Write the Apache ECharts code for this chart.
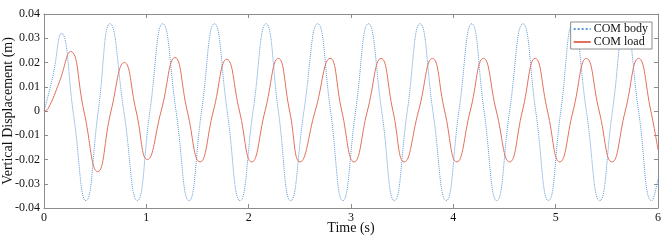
<!DOCTYPE html>
<html>
<head>
<meta charset="utf-8">
<script src="https://cdn.jsdelivr.net/npm/echarts@6/dist/echarts.min.js"></script>
<style>
  html, body { margin: 0; padding: 0; background: #fff; }
  #main { width: 665px; height: 243px; }
</style>
</head>
<body>
<div id="main"></div>
<script>
// 曲线关键点（峰、谷、过零点）
let bodyTime = [0, 0.085, 0.17, 0.29, 0.41, 0.53, 0.645, 0.78, 0.912, 1.035, 1.16, 1.29, 1.417, 1.54, 1.665, 1.79, 1.916, 2.043,
    2.17, 2.29, 2.41, 2.54, 2.675, 2.80, 2.92, 3.045, 3.17, 3.30, 3.424, 3.55, 3.675, 3.80, 3.93, 4.055,
    4.18, 4.30, 4.425, 4.55, 4.68, 4.805, 4.93, 5.05, 5.17, 5.30, 5.43, 5.555, 5.68, 5.81, 5.94, 6.0]
let bodyDisp = [0, 0.014, 0.032, -0.002, -0.037, 0, 0.036, 0, -0.037, 0, 0.036, 0, -0.037, 0, 0.036, 0, -0.037, 0,
    0.036, 0, -0.037, 0, 0.036, 0, -0.037, 0, 0.036, 0, -0.037, 0, 0.036, 0, -0.037, 0,
    0.036, 0, -0.037, 0, 0.036, 0, -0.037, 0, 0.036, 0, -0.037, 0, 0.036, 0, -0.037, -0.028]

let loadTime = [0, 0.04, 0.15, 0.26, 0.39, 0.525, 0.655, 0.785, 0.90, 1.01, 1.145, 1.28, 1.40, 1.525, 1.655, 1.786, 1.91, 2.03,
    2.16, 2.29, 2.40, 2.502, 2.65, 2.796, 2.91, 3.03, 3.16, 3.294, 3.41, 3.52, 3.66, 3.796, 3.915, 4.034,
    4.165, 4.294, 4.42, 4.55, 4.675, 4.80, 4.92, 5.04, 5.17, 5.30, 5.425, 5.55, 5.68, 5.81, 5.93, 6.0]
let loadDisp = [0, 0.001, 0.012, 0.0245, 0, -0.025, 0, 0.020, 0, -0.020, 0, 0.022, 0, -0.021, 0, 0.0213, 0, -0.021,
    0, 0.0217, 0, -0.021, 0, 0.0217, 0, -0.021, 0, 0.0217, 0, -0.021, 0, 0.0217, 0, -0.021,
    0, 0.0217, 0, -0.021, 0, 0.0217, 0, -0.021, 0, 0.0217, 0, -0.021, 0, 0.0217, 0, -0.016]

let seriesNames = ['COM body', 'COM load']

let myChart = echarts.init(document.getElementById('main'))
let font = 'Liberation Serif'
let axisColor = '#8c8c8c'

function pairs(ts, vs) {
    return ts.map(function (t, i) { return [t, vs[i]] })
}

let option = {
    animation: false,
    textStyle: { fontFamily: font },
    grid: { left: 44, right: 7, top: 14, bottom: 35, outerBoundsMode: 'none', containLabel: false },
    legend: {
        orient: 'vertical',
        right: 13,
        top: 22,
        padding: [1, 4, 1, 2],
        itemGap: 1,
        itemWidth: 17,
        itemHeight: 10,
        backgroundColor: '#fff',
        borderColor: '#8c8c8c',
        borderWidth: 1,
        borderRadius: 0,
        itemStyle: { opacity: 0 },
        textStyle: { fontFamily: font, fontSize: 12, color: '#111', padding: [0, 0, 0, -2] },
        data: seriesNames
    },
    xAxis: [
        {
            type: 'value', min: 0, max: 6, interval: 1,
            name: 'Time (s)', nameLocation: 'middle', nameGap: 13, nameMoveOverlap: false,
            nameTextStyle: { fontFamily: font, fontSize: 14, color: '#111' },
            axisLine: { onZero: false, lineStyle: { color: axisColor } },
            axisTick: { inside: true, length: 4, lineStyle: { color: axisColor } },
            axisLabel: { fontFamily: font, fontSize: 12, color: '#111', margin: 4 },
            splitLine: { show: false }
        },
        {
            type: 'value', min: 0, max: 6, interval: 1, position: 'top',
            axisLine: { show: true, onZero: false, lineStyle: { color: axisColor } },
            axisTick: { inside: true, length: 4, lineStyle: { color: axisColor } },
            axisLabel: { show: false },
            splitLine: { show: false }
        }
    ],
    yAxis: [
        {
            type: 'value', min: -0.04, max: 0.04, interval: 0.01,
            name: 'Vertical Displacement (m)', nameLocation: 'middle', nameGap: 29, nameMoveOverlap: false,
            nameTextStyle: { fontFamily: font, fontSize: 14, color: '#111' },
            axisLine: { show: true, onZero: false, lineStyle: { color: axisColor } },
            axisTick: { show: true, inside: true, length: 4, lineStyle: { color: axisColor } },
            axisLabel: {
                fontFamily: font, fontSize: 12, color: '#111', margin: 4,
                formatter: function (v) { return String(Math.round(v * 100) / 100) }
            },
            splitLine: { show: false }
        },
        {
            type: 'value', min: -0.04, max: 0.04, interval: 0.01, position: 'right',
            axisLine: { show: true, onZero: false, lineStyle: { color: axisColor } },
            axisTick: { show: true, inside: true, length: 4, lineStyle: { color: axisColor } },
            axisLabel: { show: false },
            splitLine: { show: false }
        }
    ],
    series: [
        {
            name: seriesNames[0],
            type: 'line',
            data: pairs(bodyTime, bodyDisp),
            smooth: 0.5,
            showSymbol: false,
            symbol: 'none',
            lineStyle: { color: '#5a98d6', width: 1, type: 'dotted' },
            itemStyle: { color: '#5a98d6' }
        },
        {
            name: seriesNames[1],
            type: 'line',
            data: pairs(loadTime, loadDisp),
            smooth: 0.5,
            showSymbol: false,
            symbol: 'none',
            lineStyle: { color: '#e2705c', width: 1 },
            itemStyle: { color: '#e2705c' }
        }
    ]
}

myChart.setOption(option)
</script>
</body>
</html>
